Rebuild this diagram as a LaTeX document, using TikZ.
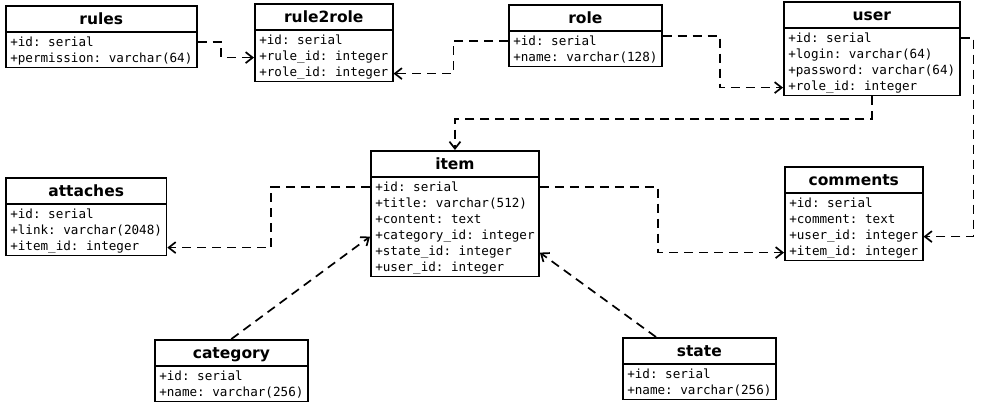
\documentclass[tikz,border=0pt]{standalone}
\usepackage{fontspec}
\setmainfont{DejaVu Sans}
\newfontfamily\attrfont{DejaVu Sans Mono}
\usetikzlibrary{shapes.multipart}
\usetikzlibrary{arrows.meta}

\newcommand{\etitle}[1]{\rule[-6.7pt]{0pt}{23.6pt}{\normalfont\fontsize{15.5}{18}\selectfont\bfseries #1}}
\newcommand{\eattrtop}[1]{\rule[-3.4pt]{0pt}{17pt}#1}
\newcommand{\eattr}[1]{\rule[-3.4pt]{0pt}{13.4pt}#1}

\tikzset{
  entity/.style={draw, line width=1.6pt, rectangle split, rectangle split parts=#1,
    rectangle split draw splits=false,
    rectangle split part align={center,left,left,left,left,left,left},
    inner xsep=4.5pt, inner ysep=0.5pt, anchor=north west,
    font=\attrfont\fontsize{12.6}{16}\selectfont\frenchspacing},
  dep/.style={dash pattern=on 9pt off 6pt, line width=1.7pt,
    -{Straight Barb[length=7pt,width=11pt]}}
}

\begin{document}
\begin{tikzpicture}[x=1pt,y=-1pt]
\useasboundingbox (0,0) rectangle (987,405);
% tables
\node[entity=3] (rules) at (5,5) {\etitle{rules}\nodepart{two}\eattrtop{+id: serial}\nodepart{three}\eattr{+permission: varchar(64)}};
\node[entity=4] (rule2role) at (254,3) {\etitle{rule2role}\nodepart{two}\eattrtop{+id: serial}\nodepart{three}\eattr{+rule\_id: integer}\nodepart{four}\eattr{+role\_id: integer}};
\node[entity=3] (role) at (508,4) {\etitle{role}\nodepart{two}\eattrtop{+id: serial}\nodepart{three}\eattr{+name: varchar(128)}};
\node[entity=5] (user) at (783,1) {\etitle{user}\nodepart{two}\eattrtop{+id: serial}\nodepart{three}\eattr{+login: varchar(64)}\nodepart{four}\eattr{+password: varchar(64)}\nodepart{five}\eattr{+role\_id: integer}};
\node[entity=7] (item) at (370,150) {\etitle{item}\nodepart{two}\eattrtop{+id: serial}\nodepart{three}\eattr{+title: varchar(512)}\nodepart{four}\eattr{+content: text}\nodepart{five}\eattr{+category\_id: integer}\nodepart{six}\eattr{+state\_id: integer}\nodepart{seven}\eattr{+user\_id: integer}};
\node[entity=4] (attaches) at (5,177) {\etitle{attaches}\nodepart{two}\eattrtop{+id: serial}\nodepart{three}\eattr{+link: varchar(2048)}\nodepart{four}\eattr{+item\_id: integer}};
\node[entity=5] (comments) at (784,166) {\etitle{comments}\nodepart{two}\eattrtop{+id: serial}\nodepart{three}\eattr{+comment: text}\nodepart{four}\eattr{+user\_id: integer}\nodepart{five}\eattr{+item\_id: integer}};
\node[entity=3] (category) at (154,339) {\etitle{category}\nodepart{two}\eattrtop{+id: serial}\nodepart{three}\eattr{+name: varchar(256)}};
\node[entity=3] (state) at (622,337) {\etitle{state}\nodepart{two}\eattrtop{+id: serial}\nodepart{three}\eattr{+name: varchar(256)}};
\foreach \t in {rules,rule2role,role,user,item,attaches,comments,category,state}
  \draw[line width=1.6pt] (\t.text split west) -- (\t.text split east);
% links
\draw[dep] (rules.two east) -| ([xshift=-33pt]rule2role.three west) -- (rule2role.three west);
\draw[dep] (role.two west) -| ([xshift=60pt]rule2role.four east) -- (rule2role.four east);
\draw[dep] ([yshift=5pt]role.two east) -| ([xshift=-63pt]user.five west) -- (user.five west);
\draw[dep] (user.south) |- ([yshift=31pt]item.north) -- (item.north);
\draw[dep] (user.two east) -| ([xshift=50pt]comments.four east) -- (comments.four east);
\draw[dep] (item.two west) -| ([xshift=104pt]attaches.four east) -- (attaches.four east);
\draw[dep] (item.two east) -| ([xshift=-126pt]comments.five west) -- (comments.five west);
\draw[dep] (category.north) -- (item.five west);
\draw[dep] ([xshift=34pt]state.north west) -- (item.six east);
\end{tikzpicture}
\end{document}
